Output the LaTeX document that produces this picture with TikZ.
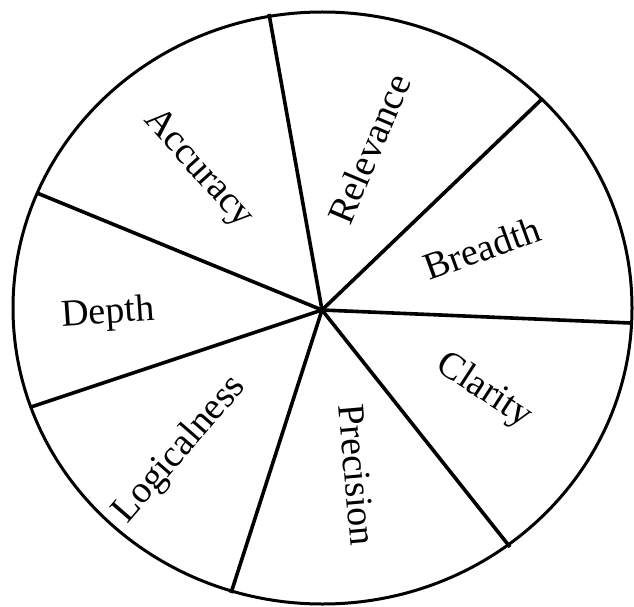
\documentclass[tikz,border=0pt]{standalone}
\usepackage{fontspec}
\setmainfont{Liberation Serif}
\begin{document}
\begin{tikzpicture}[x=1pt,y=-1pt,
  rim/.style={line width=3pt},
  spoke/.style={line width=3.6pt},
  lab/.style={inner sep=0pt,font=\fontsize{38}{40}\selectfont}]
\useasboundingbox (0,0) rectangle (634,607);
\draw[rim] (322.5,308) ellipse [x radius=309.5pt, y radius=296pt];
\coordinate (c) at (322,310);
\coordinate (e1) at (269,14);
\coordinate (e2) at (541,100);
\coordinate (e3) at (630,323);
\coordinate (e4) at (510,547);
\coordinate (e5) at (231,593);
\coordinate (e6) at (31,407);
\coordinate (e7) at (37,193);
\foreach \e in {e1,e2,e3,e4,e5,e6,e7} \draw[spoke] (c) -- (\e);
\node[lab,rotate=-48] (acc) at (198,169) {Accuracy};
\node[lab,rotate=67] (rel) at (369,149) {Relevance};
\node[lab,rotate=20] (bre) at (482,248) {Breadth};
\node[lab,rotate=4] (dep) at (108,314) {Depth};
\node[lab,rotate=49] (log) at (180,450) {Logicalness};
\node[lab,rotate=-85] (pre) at (357,475) {Precision};
\node[lab,rotate=-33] (cla) at (484,391) {Clarity};
\end{tikzpicture}
\end{document}
